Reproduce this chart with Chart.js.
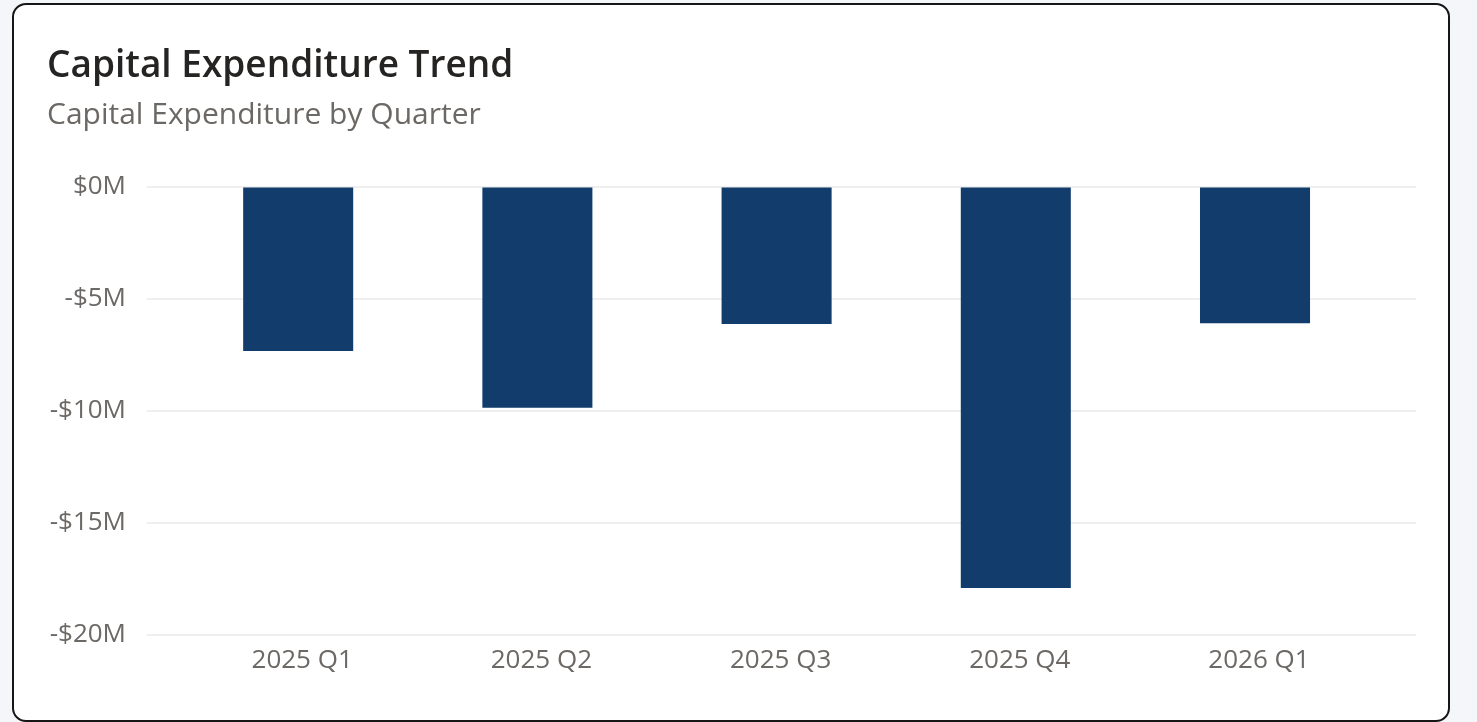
<!DOCTYPE html>
<html>
<head>
<meta charset="utf-8">
<script src="https://cdn.jsdelivr.net/npm/chart.js@4.4.1/dist/chart.umd.min.js"></script>
<style>
  html, body { margin: 0; padding: 0; background: #f5f6fa; width: 1477px; height: 722px; overflow: hidden; }
  #card { position: absolute; left: 12px; top: 3px; width: 1438px; height: 719px; box-sizing: border-box;
          border: 2px solid #161616; border-radius: 14px; background: #ffffff; overflow: hidden; }
  #wrap { position: absolute; left: 0; top: 0; width: 1434px; height: 715px; }
</style>
</head>
<body>
<div id="card"><div id="wrap"><canvas id="c"></canvas></div></div>
<script>
const titleText = 'Capital Expenditure Trend';
const subtitleText = 'Capital Expenditure by Quarter';
const categories = ['2025 Q1', '2025 Q2', '2025 Q3', '2025 Q4', '2026 Q1'];
const capexValues = [-7.33, -9.87, -6.13, -17.90, -6.10]; // $M
const yTicks = [0, -5, -10, -15, -20];

const FONT = "'Segoe UI', 'Open Sans', 'Noto Sans', sans-serif";
const points = categories.map((c, i) => ({ x: i, y: capexValues[i] }));

new Chart(document.getElementById('c'), {
  type: 'bar',
  data: {
    datasets: [{
      label: 'Capital Expenditure',
      data: points,
      backgroundColor: '#113c6b',
      borderWidth: 0,
      barPercentage: 0.46,
      categoryPercentage: 1
    }]
  },
  options: {
    responsive: true,
    maintainAspectRatio: false,
    animation: false,
    layout: { padding: { left: 33, right: 32, top: 20, bottom: 44 } },
    plugins: {
      legend: { display: false },
      tooltip: { enabled: false },
      title: {
        display: true, text: titleText, align: 'start', color: '#252423',
        font: { family: FONT, size: 37, weight: '600', lineHeight: 1.2 },
        padding: { top: 19, bottom: 0 }
      },
      subtitle: {
        display: true, text: subtitleText, align: 'start', color: '#6b6865',
        font: { family: FONT, size: 30, weight: '400', lineHeight: 1.2 },
        padding: { top: 8.6, bottom: 53.5 }
      }
    },
    scales: {
      x: {
        type: 'linear',
        offset: false,
        min: -0.632, max: 4.673,
        grid: { display: false, drawTicks: false },
        border: { display: false },
        afterFit: (scale) => { scale.height = 41; },
        afterBuildTicks: (scale) => { scale.ticks = categories.map((c, i) => ({ value: i })); },
        ticks: {
          padding: 9.5, labelOffset: 4, color: '#6b6865', font: { family: FONT, size: 26 },
          maxRotation: 0, autoSkip: false,
          callback: (v) => categories[v] ?? ''
        }
      },
      y: {
        min: -20, max: 0,
        afterFit: (scale) => { scale.width = 100; },
        afterBuildTicks: (scale) => { scale.ticks = yTicks.map(v => ({ value: v })); },
        grid: { color: '#efefef', lineWidth: 2, drawTicks: false },
        border: { display: false },
        ticks: {
          padding: 21, color: '#6b6865', font: { family: FONT, size: 26 },
          callback: (v) => (v < 0 ? '-$' + (-v) : '$' + v) + 'M'
        }
      }
    }
  }
});
</script>
</body>
</html>
